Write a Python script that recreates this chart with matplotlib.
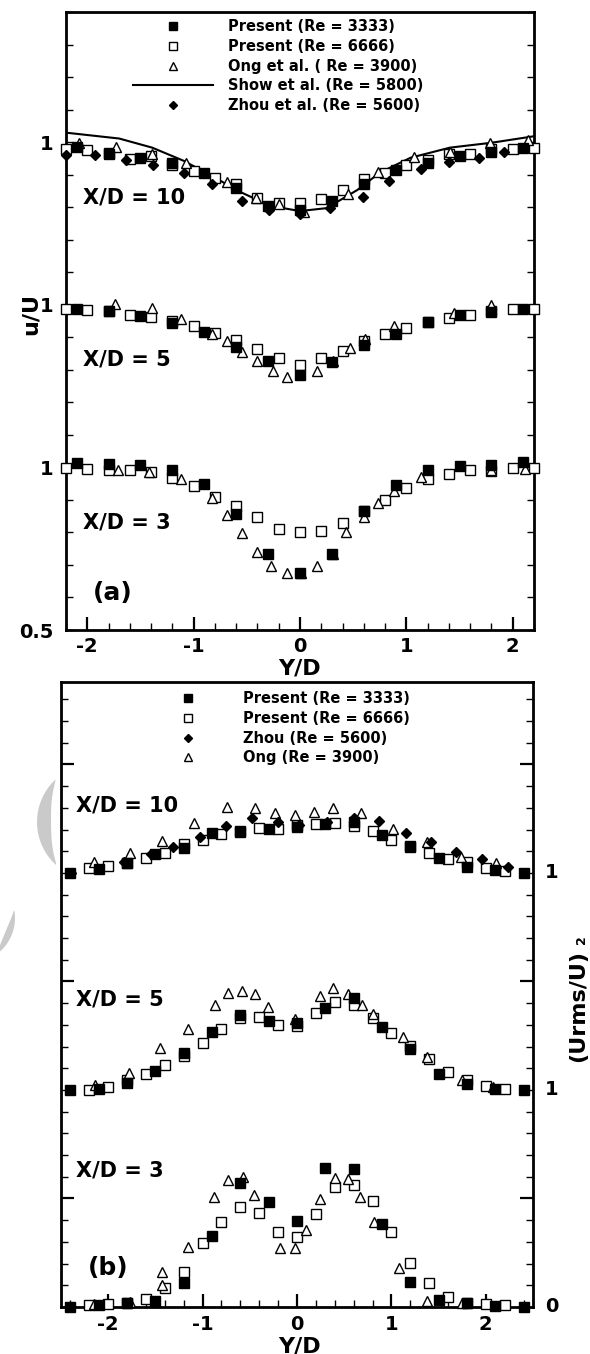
import numpy as np
import matplotlib
matplotlib.use("Agg")
import matplotlib.pyplot as plt
from matplotlib.ticker import MultipleLocator, FixedLocator
from matplotlib.patches import Polygon
import matplotlib.transforms as mtransforms

plt.rcParams['font.family'] = ['DejaVu Sans']
plt.rcParams['font.weight'] = 'bold'

# ---------------- (a) mean velocity u/U ----------------
x_3333 = [-2.1, -1.8, -1.5, -1.2, -0.9, -0.6, -0.3, 0.0, 0.3, 0.6, 0.9, 1.2, 1.5, 1.8, 2.1]
x_6666 = [-2.2, -2.0, -1.8, -1.6, -1.4, -1.2, -1.0, -0.8, -0.6, -0.4, -0.2, 0.0,
          0.2, 0.4, 0.6, 0.8, 1.0, 1.2, 1.4, 1.6, 1.8, 2.0, 2.2]

u3333_xd10 = [0.985, 0.963, 0.951, 0.936, 0.905, 0.860, 0.804, 0.790, 0.820, 0.871, 0.914, 0.936, 0.957, 0.969, 0.982]
u6666_xd10 = [0.978, 0.975, 0.965, 0.949, 0.957, 0.930, 0.911, 0.891, 0.870, 0.829, 0.812, 0.814,
              0.824, 0.853, 0.888, 0.905, 0.929, 0.945, 0.962, 0.964, 0.978, 0.978, 0.982]
x_ong_u10 = [-2.08, -1.73, -1.39, -1.07, -0.69, -0.41, -0.20, 0.04, 0.45, 0.73, 1.07, 1.41, 1.79, 2.14]
u_ong_xd10 = [0.998, 0.986, 0.964, 0.935, 0.877, 0.829, 0.810, 0.785, 0.840, 0.909, 0.954, 0.970, 0.998, 1.008]
x_zhou_u10 = [-2.2, -1.93, -1.64, -1.38, -1.09, -0.83, -0.55, -0.29, 0.0, 0.28, 0.59, 0.84, 1.14, 1.40, 1.68, 1.92]
u_zhou_xd10 = [0.960, 0.960, 0.945, 0.930, 0.904, 0.870, 0.819, 0.790, 0.778, 0.797, 0.832, 0.880, 0.916, 0.940, 0.952, 0.969]
x_show = [-2.2, -1.7, -1.39, -1.09, -0.83, -0.55, -0.28, 0.0, 0.25, 0.54, 0.75, 1.04, 1.41, 1.8, 2.2]
u_show = [1.029, 1.011, 0.983, 0.942, 0.896, 0.845, 0.804, 0.788, 0.797, 0.853, 0.906, 0.952, 0.983, 0.998, 1.018]

u3333_xd5 = [0.987, 0.982, 0.966, 0.944, 0.915, 0.871, 0.826, 0.785, 0.823, 0.877, 0.910, 0.946, 0.969, 0.979, 0.987]
u6666_xd5 = [0.987, 0.985, 0.982, 0.969, 0.961, 0.950, 0.934, 0.913, 0.892, 0.864, 0.835, 0.816,
             0.836, 0.857, 0.890, 0.910, 0.929, 0.946, 0.959, 0.969, 0.980, 0.987, 0.987]
x_ong_u5 = [-1.74, -1.39, -1.12, -0.83, -0.69, -0.55, -0.40, -0.25, -0.12, 0.16, 0.31, 0.47, 0.61, 0.88, 1.45, 1.8]
u_ong_xd5 = [1.002, 0.990, 0.956, 0.910, 0.890, 0.854, 0.828, 0.795, 0.779, 0.795, 0.828, 0.866, 0.895, 0.936, 0.976, 1.000]

u3333_xd3 = [1.014, 1.011, 1.006, 0.993, 0.950, 0.858, 0.735, 0.674, 0.735, 0.866, 0.947, 0.993, 1.004, 1.008, 1.015]
u6666_xd3 = [0.998, 0.996, 0.993, 0.993, 0.986, 0.968, 0.942, 0.909, 0.880, 0.848, 0.810, 0.800,
             0.804, 0.829, 0.866, 0.899, 0.938, 0.963, 0.979, 0.991, 0.990, 0.998, 0.998]
x_ong_u3 = [-1.71, -1.42, -1.12, -0.83, -0.69, -0.55, -0.40, -0.27, -0.12, 0.01, 0.16, 0.31, 0.43, 0.60,
            0.73, 0.88, 1.14, 1.80, 2.12]
u_ong_xd3 = [0.991, 0.986, 0.963, 0.905, 0.853, 0.797, 0.740, 0.697, 0.675, 0.674, 0.697, 0.735, 0.800, 0.847,
             0.889, 0.926, 0.970, 0.991, 0.996]

# ---------------- (b) (Urms/U)^2 ----------------
x_3333b = [-2.4, -2.1, -1.8, -1.5, -1.2, -0.9, -0.6, -0.3, 0.0, 0.3, 0.6, 0.9, 1.2, 1.5, 1.8, 2.1, 2.4]

r3333_xd10 = [0.0, 0.0017, 0.0048, 0.0088, 0.0117, 0.0183, 0.0195, 0.0203, 0.0213, 0.0226, 0.0236, 0.0175,
              0.0126, 0.0068, 0.0029, 0.0014, 0.0]
r6666_xd10 = [0.0022, 0.0032, 0.0045, 0.0068, 0.0091, 0.0132, 0.0152, 0.0180, 0.0190, 0.0206, 0.0203, 0.0220,
              0.0226, 0.0229, 0.0218, 0.0194, 0.0152, 0.0121, 0.0094, 0.0063, 0.0052, 0.0024, 0.0011]
x_zhou_r10 = [-2.39, -2.1, -1.83, -1.55, -1.31, -1.03, -0.75, -0.48, -0.2, 0.02, 0.32, 0.6, 0.87, 1.15, 1.42,
              1.68, 1.96, 2.24]
r_zhou_xd10 = [0.0, 0.0017, 0.0052, 0.0088, 0.0121, 0.0167, 0.0218, 0.0252, 0.0236, 0.0221, 0.0236, 0.0252,
               0.0241, 0.0186, 0.0141, 0.0098, 0.0065, 0.0029]
x_ong_r10 = [-2.15, -1.77, -1.43, -1.09, -0.74, -0.44, -0.23, -0.02, 0.18, 0.38, 0.68, 1.02, 1.38, 1.74, 2.11]
r_ong_xd10 = [0.0052, 0.0091, 0.0147, 0.0232, 0.0306, 0.0301, 0.0275, 0.0267, 0.0280, 0.0301, 0.0278, 0.0201,
              0.0141, 0.0075, 0.0045]

r3333_xd5 = [0.0, 0.0003, 0.0031, 0.0088, 0.0169, 0.0269, 0.0346, 0.0320, 0.0310, 0.0376, 0.0423, 0.0289,
             0.0189, 0.0074, 0.0028, 0.0003, 0.0]
r6666_xd5 = [0.0, 0.0015, 0.0046, 0.0074, 0.0115, 0.0157, 0.0215, 0.0281, 0.0330, 0.0335, 0.0300, 0.0295,
             0.0353, 0.0405, 0.0392, 0.0330, 0.0261, 0.0204, 0.0141, 0.0084, 0.0046, 0.0018, 0.0003]
x_ong_r5 = [-2.14, -1.78, -1.45, -1.15, -0.87, -0.73, -0.58, -0.44, -0.31, -0.02, 0.24, 0.38, 0.54, 0.69, 0.8,
            1.12, 1.38, 1.75, 2.08]
r_ong_xd5 = [0.0023, 0.0077, 0.0192, 0.0280, 0.0392, 0.0446, 0.0458, 0.0441, 0.0381, 0.0327, 0.0435, 0.0469,
             0.0442, 0.0392, 0.0350, 0.0243, 0.0151, 0.0046, 0.0012]

r3333_xd3 = [0.0, 0.0009, 0.0017, 0.0028, 0.0112, 0.0327, 0.0573, 0.0485, 0.0396, 0.0639, 0.0636, 0.0382,
             0.0117, 0.0032, 0.0017, 0.0005, 0.0]
r6666_xd3 = [0.0009, 0.0012, 0.0020, 0.0035, 0.0086, 0.0163, 0.0293, 0.0393, 0.0462, 0.0435, 0.0344, 0.0324,
             0.0429, 0.0552, 0.0562, 0.0488, 0.0344, 0.0201, 0.0109, 0.0048, 0.0020, 0.0012, 0.0009]
x_ong_r3 = [-2.15, -1.77, -1.43, -1.43, -1.15, -0.88, -0.73, -0.57, -0.46, -0.18, -0.02, 0.1, 0.24, 0.4, 0.54,
            0.67, 0.82, 1.08, 1.38, 1.75]
r_ong_xd3 = [0.0012, 0.0025, 0.0163, 0.0101, 0.0275, 0.0508, 0.0585, 0.0598, 0.0516, 0.0270, 0.0270, 0.0355,
             0.0496, 0.0596, 0.0590, 0.0508, 0.0390, 0.0181, 0.0028, 0.0017]

W, H = 590, 1354
fig = plt.figure(figsize=(W / 100, H / 100), dpi=100)


def fx(px):
    return px / W


def fy(py):
    return 1 - py / H


# marker styles (Tecplot look)
st_fill = dict(ls='none', marker='s', ms=7, mfc='black', mec='black', mew=1)
st_open = dict(ls='none', marker='s', ms=7, mfc='white', mec='black', mew=1)
st_tri = dict(ls='none', marker='^', ms=7.5, mfc='white', mec='black', mew=1)
st_dia = dict(ls='none', marker='D', ms=5.5, mfc='black', mec='black', mew=1)

# light grey watermark crescents
def crescent(cx, cy, r, t0, t1, wmax):
    t = np.radians(np.linspace(t0, t1, 60))
    w = wmax * np.sin(np.linspace(0, np.pi, 60)) ** 0.8
    xo, yo = cx + r * np.cos(t), cy - r * np.sin(t)
    xi, yi = cx + (r - w) * np.cos(t), cy - (r - w) * np.sin(t)
    xs = np.concatenate([xo, xi[::-1]])
    ys = np.concatenate([yo, yi[::-1]])
    return np.column_stack([fx(xs), fy(ys)])

fig.patches.append(Polygon(crescent(95, 822, 58, 133, 228, 14), closed=True, transform=fig.transFigure,
                           facecolor='#cacaca', edgecolor='none', zorder=0))
fig.patches.append(Polygon(crescent(-30, 918, 45, -55, 10, 7), closed=True, transform=fig.transFigure,
                           facecolor='#cacaca', edgecolor='none', zorder=0))


def style_axes(ax):
    for s in ax.spines.values():
        s.set_linewidth(2)
    ax.tick_params(which='both', direction='in', labelsize=14, width=1)
    ax.tick_params(which='major', length=9.5, width=1.6)
    ax.tick_params(which='minor', length=5)
    ax.patch.set_alpha(0)


# ---------------- panel (a) ----------------
ax1 = fig.add_axes([fx(66), fy(630), fx(534) - fx(66), fy(12) - fy(630)])
off_a = {10: 1.0, 5: 0.5, 3: 0.0}

h_fill, = ax1.plot(x_3333, np.array(u3333_xd10) + off_a[10], label='Present (Re = 3333)', zorder=4, **st_fill)
h_open, = ax1.plot(x_6666, np.array(u6666_xd10) + off_a[10], label='Present (Re = 6666)', zorder=3, **st_open)
h_ong, = ax1.plot(x_ong_u10, np.array(u_ong_xd10) + off_a[10], label='Ong et al. ( Re = 3900)', zorder=3, **st_tri)
h_show, = ax1.plot(x_show, np.array(u_show) + off_a[10], color='black', lw=1.5, label='Show et al. (Re = 5800)',
                   zorder=2)
h_zhou, = ax1.plot(x_zhou_u10, np.array(u_zhou_xd10) + off_a[10], label='Zhou et al. (Re = 5600)', zorder=5, **st_dia)

ax1.plot(x_3333, np.array(u3333_xd5) + off_a[5], zorder=4, **st_fill)
ax1.plot(x_6666, np.array(u6666_xd5) + off_a[5], zorder=3, **st_open)
ax1.plot(x_ong_u5, np.array(u_ong_xd5) + off_a[5], zorder=3, **st_tri)

ax1.plot(x_3333, np.array(u3333_xd3) + off_a[3], zorder=4, **st_fill)
ax1.plot(x_6666, np.array(u6666_xd3) + off_a[3], zorder=3, **st_open)
ax1.plot(x_ong_u3, np.array(u_ong_xd3) + off_a[3], zorder=3, **st_tri)

for ln in ax1.lines:
    if ln is not h_show:
        ln.set_clip_on(False)

ax1.set_xlim(-2.2, 2.2)
ax1.set_ylim(0.5, 2.4)
style_axes(ax1)
ax1.set_xticks([-2, -1, 0, 1, 2])
ax1.set_xticklabels(['-2', '-1', '0', '1', '2'])
ax1.xaxis.set_minor_locator(MultipleLocator(0.2))
yt = np.round(np.arange(0.5, 2.41, 0.1), 2)
ax1.set_yticks(yt)
ax1.set_yticklabels(['0.5' if v == 0.5 else ('1' if v in (1.0, 1.5, 2.0) else '') for v in yt])
ax1.tick_params(axis='y', which='major', length=5, width=1, left=True, right=True, pad=9)
ax1.tick_params(axis='x', which='both', top=False, pad=5)

ax1.text(-2.04, 1.831, 'X/D = 10', fontsize=15, ha='left', va='center')
ax1.text(-2.04, 1.331, 'X/D = 5', fontsize=15, ha='left', va='center')
ax1.text(-2.04, 0.831, 'X/D = 3', fontsize=15, ha='left', va='center')
ax1.text(-1.945, 0.613, '(a)', fontsize=18, ha='left', va='center')

ax1.legend(handles=[h_fill, h_open, h_ong, h_show, h_zhou], loc='upper left',
           bbox_to_anchor=(fx(133), fy(19)), bbox_transform=fig.transFigure,
           frameon=False, fontsize=10.5, handlelength=5.5, handletextpad=1.0,
           labelspacing=0.33, borderpad=0, borderaxespad=0, numpoints=1, markerscale=0.8)

fig.text(fx(31), fy(314), 'u/U', rotation=90, fontsize=16, ha='center', va='center')
fig.text(fx(299), fy(668), 'Y/D', fontsize=16, ha='center', va='center')

# ---------------- panel (b) ----------------
ax2 = fig.add_axes([fx(61), fy(1307), fx(533) - fx(61), fy(682) - fy(1307)])
off_b = {10: 0.2, 5: 0.1, 3: 0.0}

g_fill, = ax2.plot(x_3333b, np.array(r3333_xd10) + off_b[10], label='Present (Re = 3333)', zorder=4, **st_fill)
g_open, = ax2.plot(x_6666, np.array(r6666_xd10) + off_b[10], label='Present (Re = 6666)', zorder=3, **st_open)
g_zhou, = ax2.plot(x_zhou_r10, np.array(r_zhou_xd10) + off_b[10], label='Zhou (Re = 5600)', zorder=5, **st_dia)
g_ong, = ax2.plot(x_ong_r10, np.array(r_ong_xd10) + off_b[10], label='Ong (Re = 3900)', zorder=3, **st_tri)

ax2.plot(x_3333b, np.array(r3333_xd5) + off_b[5], zorder=4, **st_fill)
ax2.plot(x_6666, np.array(r6666_xd5) + off_b[5], zorder=3, **st_open)
ax2.plot(x_ong_r5, np.array(r_ong_xd5) + off_b[5], zorder=3, **st_tri)

ax2.plot(x_3333b, np.array(r3333_xd3) + off_b[3], zorder=4, **st_fill)
ax2.plot(x_6666, np.array(r6666_xd3) + off_b[3], zorder=3, **st_open)
ax2.plot(x_ong_r3, np.array(r_ong_xd3) + off_b[3], zorder=3, **st_tri)

for ln in ax2.lines:
    ln.set_clip_on(False)

ax2.set_xlim(-2.5, 2.5)
ax2.set_ylim(0.0, 0.288)
style_axes(ax2)
ax2.set_xticks([-2, -1, 0, 1, 2])
ax2.set_xticklabels(['-2', '-1', '0', '1', '2'])
ax2.xaxis.set_minor_locator(MultipleLocator(0.2))
ax2.yaxis.set_major_locator(FixedLocator([0.05, 0.15, 0.25]))
ax2.yaxis.set_minor_locator(MultipleLocator(0.01))
ax2.tick_params(axis='y', which='both', left=True, right=True, labelleft=False)
ax2.tick_params(axis='x', which='both', top=False, pad=6)

trans = mtransforms.blended_transform_factory(ax2.transAxes, ax2.transData)
for yv, lab in zip([0.0, 0.1, 0.2], ['0', '1', '1']):
    ax2.text(1.025, yv, lab, transform=trans, fontsize=14, ha='left', va='center')

ax2.text(-2.34, 0.2313, 'X/D = 10', fontsize=15, ha='left', va='center')
ax2.text(-2.34, 0.1415, 'X/D = 5', fontsize=15, ha='left', va='center')
ax2.text(-2.34, 0.0627, 'X/D = 3', fontsize=15, ha='left', va='center')
ax2.text(-2.22, 0.018, '(b)', fontsize=18, ha='left', va='center')

ax2.legend(handles=[g_fill, g_open, g_zhou, g_ong], loc='upper left',
           bbox_to_anchor=(fx(148), fy(691)), bbox_transform=fig.transFigure,
           frameon=False, fontsize=10.5, handlelength=5.5, handletextpad=1.0,
           labelspacing=0.33, borderpad=0, borderaxespad=0, numpoints=1, markerscale=0.8)

fig.text(fx(578), fy(1006), '(Urms/U)', rotation=90, fontsize=16, ha='center', va='center')
fig.text(fx(582), fy(940), '2', rotation=90, fontsize=9, ha='center', va='center')
fig.text(fx(299), fy(1346), 'Y/D', fontsize=16, ha='center', va='center')

fig.savefig('out.png', dpi=100)
